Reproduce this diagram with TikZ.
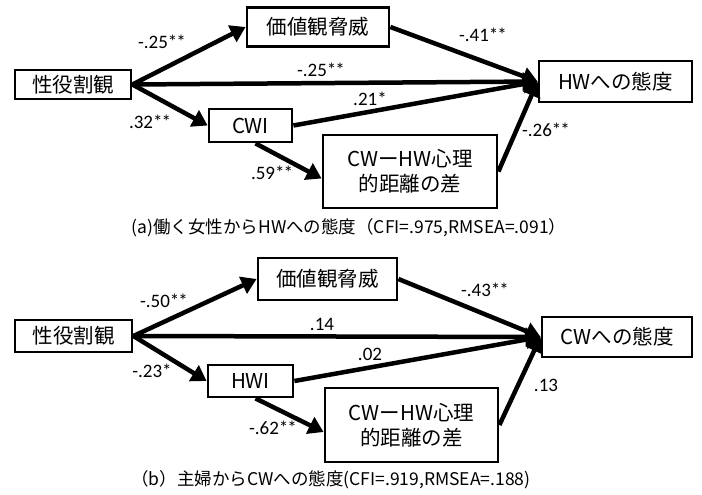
\documentclass[tikz,border=0pt]{standalone}
\usepackage{fontspec}
\setmainfont{Noto Sans CJK JP}
\newfontfamily\lat{Carlito}
\usetikzlibrary{arrows.meta}
\begin{document}
\begin{tikzpicture}[x=1pt,y=-1pt,
  box/.style={draw,line width=2.8pt,inner sep=0pt,font=\fontsize{20.5}{25}\selectfont,align=center},
  arr/.style={line width=4.5pt,-{Triangle[length=15pt,width=18pt]}},
  lbl/.style={font=\lat\fontsize{19}{21}\selectfont,inner sep=0pt},
  captxt/.style={font=\fontsize{17.5}{20}\selectfont,inner sep=0pt}]
\useasboundingbox[fill=white] (0,0) rectangle (702,495);

% ---------- (a) ----------
\node[box,minimum width=116pt,minimum height=29pt] (sa) at (73,84.5) {性役割観};
\node[box,minimum width=142pt,minimum height=39pt] (va) at (318,27) {価値観脅威};
\node[box,minimum width=153pt,minimum height=41pt] (ha) at (615.5,81.5) {HWへの態度};
\node[box,minimum width=83pt,minimum height=33pt] (ia) at (250.5,125.5) {CWI};
\node[box,minimum width=174pt,minimum height=73pt] (da) at (410,171.5) {CWーHW心理\\的距離の差};

\draw[arr] (sa.east) -- (va.west);
\draw[arr] (sa.east) -- (ha.west);
\draw[arr] (sa.east) -- (ia.west);
\draw[arr] (va.east) -- (ha.west);
\draw[arr] (ia.east) -- (ha.west);
\draw[arr] ([xshift=5pt]ia.south) -- ([yshift=-7pt]da.west);
\draw[arr] (da.east) -- (ha.west);

\node[lbl] (la1) at (162,42) {-.25*\kern-1pt*};
\node[lbl] (la2) at (321,70) {-.25*\kern-1pt*};
\node[lbl] (la3) at (150,122) {.32*\kern-1pt*};
\node[lbl] (la4) at (370,99) {.21*};
\node[lbl] (la5) at (483,35) {-.41*\kern-1pt*};
\node[lbl] (la6) at (546,130) {-.26*\kern-1pt*};
\node[lbl] (la7) at (272,173) {.59*\kern-1pt*};

\node[captxt] (ca) at (349,228) {(a)働く女性からHWへの態度（CFI=.975,RMSEA=.091）};

% ---------- (b) ----------
\node[box,minimum width=117pt,minimum height=32pt] (sb) at (73.5,336) {性役割観};
\node[box,minimum width=139pt,minimum height=42pt] (vb) at (327.5,279) {価値観脅威};
\node[box,minimum width=150pt,minimum height=40pt] (hb) at (617,337) {CWへの態度};
\node[box,minimum width=85pt,minimum height=32pt] (ib) at (250.5,381) {HWI};
\node[box,minimum width=173pt,minimum height=74pt] (db) at (411.5,425) {CWーHW心理\\的距離の差};

\draw[arr] (sb.east) -- (vb.west);
\draw[arr] (sb.east) -- (hb.west);
\draw[arr] (sb.east) -- (ib.west);
\draw[arr] (vb.east) -- (hb.west);
\draw[arr] (ib.east) -- (hb.west);
\draw[arr] ([xshift=5pt]ib.south) -- ([yshift=-7pt]db.west);
\draw[arr] (db.east) -- (hb.west);

\node[lbl] (lb1) at (164,301) {-.50*\kern-1pt*};
\node[lbl] (lb2) at (322,324) {.14};
\node[lbl] (lb3) at (152,371) {-.23*};
\node[lbl] (lb4) at (370,354) {.02};
\node[lbl] (lb5) at (485,290) {-.43*\kern-1pt*};
\node[lbl] (lb6) at (546,385) {.13};
\node[lbl] (lb7) at (273,428) {-.62*\kern-1pt*};

\node[captxt] (cb) at (331,480) {（b）主婦からCWへの態度(CFI=.919,RMSEA=.188)};
\end{tikzpicture}
\end{document}
